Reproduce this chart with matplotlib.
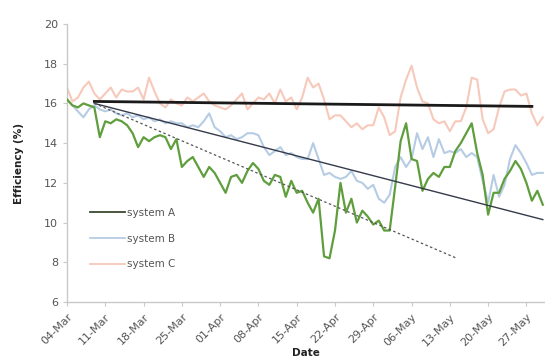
import matplotlib
matplotlib.use("Agg")
import matplotlib.pyplot as plt
from matplotlib.lines import Line2D

# ---- data (daily, starting 04-Mar) ----
system_a = [16.2, 15.9, 15.8, 16.0, 15.9, 15.8, 14.3, 15.1, 15.0, 15.2,
            15.1, 14.9, 14.5, 13.8, 14.3, 14.1, 14.3, 14.4, 14.3, 13.7,
            14.2, 12.8, 13.1, 13.3, 12.8, 12.3, 12.8, 12.5, 12.0, 11.5,
            12.3, 12.4, 12.0, 12.6, 13.0, 12.7, 12.1, 11.9, 12.4, 12.3,
            11.3, 12.1, 11.5, 11.6, 11.0, 10.5, 11.2, 8.3, 8.2, 9.6,
            12.0, 10.5, 11.2, 10.0, 10.6, 10.3, 9.9, 10.1, 9.6, 9.6,
            11.8, 14.1, 15.0, 13.2, 13.1, 11.6, 12.2, 12.5, 12.3, 12.8,
            12.8, 13.6, 14.0, 14.5, 15.0, 13.5, 12.4, 10.4, 11.5, 11.5,
            12.2, 12.6, 13.1, 12.7, 12.0, 11.1, 11.6, 10.9]
system_b = [16.2, 15.9, 15.6, 15.3, 15.7, 15.9, 15.7, 15.6, 15.7, 15.5,
            15.4, 15.5, 15.3, 15.4, 15.2, 15.3, 15.1, 15.2, 15.0, 15.1,
            15.0, 15.0, 14.8, 14.9, 14.8, 15.1, 15.5, 14.8, 14.6, 14.3,
            14.4, 14.2, 14.3, 14.5, 14.5, 14.4, 13.8, 13.4, 13.6, 13.8,
            13.4, 13.5, 13.3, 13.2, 13.2, 14.0, 13.2, 12.4, 12.5, 12.3,
            12.2, 12.3, 12.6, 12.1, 12.0, 11.7, 11.9, 11.2, 11.0, 11.4,
            12.8, 13.3, 12.8, 13.2, 14.5, 13.7, 14.3, 13.3, 14.2, 13.5,
            13.6, 13.5, 13.7, 13.3, 13.5, 13.3, 12.1, 11.0, 12.4, 11.3,
            11.9, 13.2, 13.9, 13.5, 13.0, 12.4, 12.5, 12.5]
system_c = [16.8, 16.1, 16.3, 16.8, 17.1, 16.5, 16.2, 16.5, 16.8, 16.3,
            16.7, 16.6, 16.6, 16.8, 16.2, 17.3, 16.6, 16.0, 15.8, 16.2,
            16.0, 15.9, 16.3, 16.1, 16.3, 16.5, 16.1, 15.9, 15.8, 15.7,
            15.9, 16.2, 16.5, 15.7, 16.0, 16.3, 16.2, 16.5, 16.0, 16.7,
            16.1, 16.3, 15.7, 16.3, 17.3, 16.8, 17.0, 16.2, 15.2, 15.4,
            15.4, 15.1, 14.8, 15.0, 14.7, 14.9, 14.9, 15.8, 15.3, 14.4,
            14.6, 16.3, 17.2, 17.9, 16.8, 16.1, 16.0, 15.2, 15.0, 15.1,
            14.6, 15.1, 15.1, 15.8, 17.3, 17.2, 15.2, 14.5, 14.7, 15.8,
            16.6, 16.7, 16.7, 16.4, 16.5, 15.5, 14.9, 15.3]
days = list(range(len(system_a)))

# trend lines: [start day, end day] and [start value, end value]
trend_c_days = [5, 85]
trend_c_vals = [16.1, 15.85]
trend_all_days = [5, 87]
trend_all_vals = [16.0, 10.15]
trend_a_days = [5, 71.3]
trend_a_vals = [16.0, 8.2]

tick_days = [0, 7, 14, 21, 28, 35, 42, 49, 56, 63, 70, 77, 84]
tick_labels = ["04-Mar", "11-Mar", "18-Mar", "25-Mar", "01-Apr", "08-Apr",
               "15-Apr", "22-Apr", "29-Apr", "06-May", "13-May", "20-May",
               "27-May"]
y_ticks = [6, 8, 10, 12, 14, 16, 18, 20]
series_names = ["system A", "system B", "system C"]
series_colors = ["#5f9e3c", "#b6cce4", "#f6c9ba"]
legend_colors = ["#3a4a30", "#b6cce4", "#f6c9ba"]

# ---- figure ----
fig = plt.figure(figsize=(5.45, 3.63), dpi=100)
ax = fig.add_axes([67 / 545, 1 - 302 / 363, 478 / 545, (302 - 24) / 363])

ax.plot(days, system_c, color=series_colors[2], lw=1.5, zorder=2)
ax.plot(days, system_b, color=series_colors[1], lw=1.5, zorder=3)
ax.plot(days, system_a, color=series_colors[0], lw=1.6, zorder=4)

ax.plot(trend_c_days, trend_c_vals, color="#1a1a1a", lw=2.0, zorder=5)
ax.plot(trend_all_days, trend_all_vals, color="#353b4a", lw=1.0, zorder=5)
ax.plot(trend_a_days, trend_a_vals, color="#555555", lw=0.9,
        linestyle=(0, (2, 2)), zorder=5)

ax.set_xlim(0, 87.4)
ax.set_ylim(6, 20)
ax.set_yticks(y_ticks)
ax.set_yticklabels([str(v) for v in y_ticks])
ax.set_xticks(tick_days)
ax.set_xticklabels(tick_labels, rotation=45, ha="right",
                   rotation_mode="anchor")

for s in ["top", "right"]:
    ax.spines[s].set_visible(False)
for s in ["left", "bottom"]:
    ax.spines[s].set_color("#c8c8c8")
    ax.spines[s].set_linewidth(1.0)
ax.tick_params(axis="both", colors="#c8c8c8", labelcolor="#555555",
               labelsize=8, length=3, width=0.8)
ax.tick_params(axis="x", pad=4)

ax.set_ylabel("Efficiency (%)", fontsize=7.5, fontweight="bold",
              color="#222222", labelpad=14)
ax.set_xlabel("Date", fontsize=7.5, fontweight="bold", color="#222222",
              labelpad=0)

handles = [Line2D([], [], color=c, lw=1.3) for c in legend_colors]
leg = fig.legend(handles, series_names, loc="upper left",
                 bbox_to_anchor=(90 / 545, 1 - 208 / 363), frameon=False,
                 fontsize=7.5, handlelength=3.4, handletextpad=0.15,
                 labelspacing=1.5, borderaxespad=0, borderpad=0)
for t in leg.get_texts():
    t.set_color("#555555")

fig.savefig("out.png", dpi=100)
